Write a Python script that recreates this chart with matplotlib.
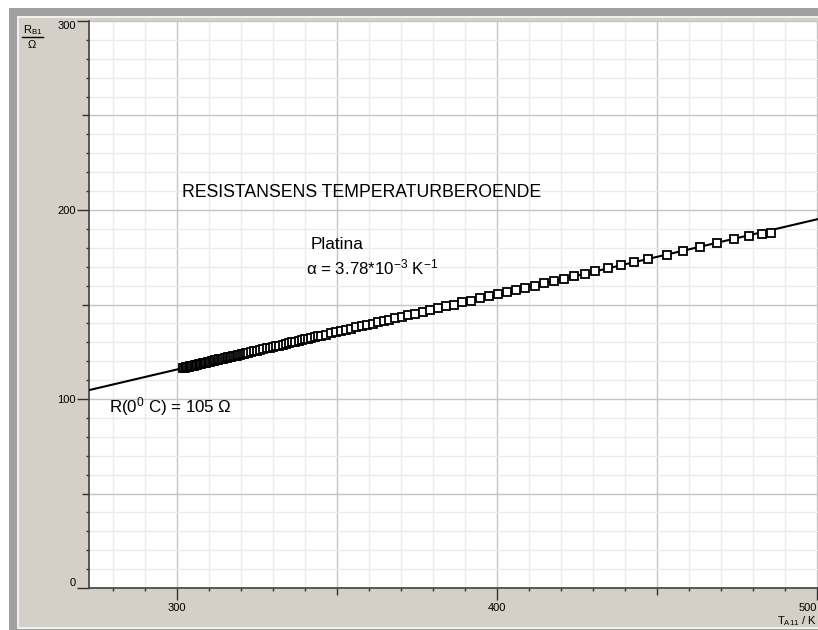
import matplotlib
matplotlib.use("Agg")
import matplotlib.pyplot as plt
from matplotlib.patches import Rectangle
from matplotlib.lines import Line2D
from matplotlib.ticker import MultipleLocator

W, H = 818, 630

# measured temperature (K) and resistance (ohm)
temp = [302.0, 302.4, 302.8, 303.2, 303.6, 304.0, 304.4, 304.8, 305.2, 305.6,
        306.0, 306.4, 306.8, 307.2, 307.6, 308.0, 308.4, 308.8, 309.2, 309.6,
        310.0, 310.4, 310.8, 311.2, 311.6, 312.0, 312.4, 312.8, 313.2, 313.6,
        314.0, 314.5, 315.0, 315.5, 316.0, 316.5, 317.0, 317.5, 318.0, 318.6,
        319.2, 319.8, 320.4, 321.0, 321.6, 322.2,
        323, 324, 325, 326, 327, 328, 329, 330, 331, 332, 333, 334, 335, 336,
        337, 338, 339, 340, 341, 342, 343, 344, 345,
        346.5, 348.0, 349.6, 351.2, 352.8, 354.4, 356.0, 357.7, 359.4, 361.1,
        362.8, 364.6, 366.4, 368.2, 370.2, 372.3, 374.5, 376.8, 379.1, 381.5,
        384.0, 386.6, 389.2, 391.9, 394.6, 397.4, 400.2, 403.0, 405.9, 408.8,
        411.8, 414.8, 417.9, 421.0, 424.2, 427.4, 430.7, 434.6, 438.6, 442.8,
        447.2, 453.0, 458.1, 463.4, 468.8, 474.1, 478.8, 482.8, 485.6]
resist = [116.5, 116.6, 116.8, 117.0, 117.1, 117.3, 117.4, 117.6, 117.7, 117.9,
          118.0, 118.2, 118.4, 118.5, 118.7, 118.8, 119.0, 119.2, 119.3, 119.5,
          119.6, 119.8, 119.9, 120.1, 120.3, 120.4, 120.6, 120.7, 120.9, 121.0,
          121.2, 121.4, 121.6, 121.8, 122.0, 122.2, 122.4, 122.6, 122.8, 123.0,
          123.3, 123.5, 123.8, 124.0, 124.2, 124.5,
          124.8, 125.2, 125.6, 126.0, 126.4, 126.8, 127.2, 127.6, 127.9, 128.3,
          128.7, 129.1, 129.5, 129.9, 130.3, 130.7, 131.1, 131.5, 131.9, 132.3,
          132.7, 133.1, 133.5,
          134.1, 134.7, 135.3, 136.0, 136.6, 137.2, 137.9, 138.6, 139.2, 139.9,
          140.6, 141.3, 142.0, 142.7, 143.5, 144.4, 145.2, 146.1, 147.1, 148.0,
          149.0, 150.0, 151.1, 152.1, 153.2, 154.3, 155.4, 156.5, 157.7, 158.8,
          160.0, 161.2, 162.5, 163.7, 165.0, 166.2, 167.5, 169.1, 170.7, 172.3,
          174.1, 176.4, 178.4, 180.5, 182.6, 184.6, 186.1, 187.1, 187.8]

# fitted straight line, end points
fit_t = [272.5, 500.3]
fit_r = [104.7, 195.2]

x_ticks = [300, 350, 400, 450, 500]
x_labels = ["300", "", "400", "", "500"]
y_ticks = [0, 50, 100, 150, 200, 250, 300]
y_labels = ["0", "", "100", "", "200", "", "300"]

plt.rcParams["font.family"] = ["Liberation Sans", "DejaVu Sans"]
plt.rcParams["mathtext.fontset"] = "custom"
plt.rcParams["mathtext.rm"] = "Liberation Sans"
plt.rcParams["mathtext.it"] = "Liberation Sans:italic"


def fx(x):
    return x / W


def fy(y):
    return 1 - y / H


def frect(fig, x0, y0, x1, y1, color):
    fig.patches.append(Rectangle((fx(x0), fy(y1)), (x1 - x0) / W, (y1 - y0) / H,
                                 transform=fig.transFigure, color=color,
                                 zorder=0, lw=0))


fig = plt.figure(figsize=(W / 100, H / 100), dpi=100, facecolor="white")
frect(fig, 9, 8, W, H, "#a0a0a0")
frect(fig, 17, 16, W, 629, "#f0f0f0")
frect(fig, 19, 18, W, 627, "#d4d0c8")

ax = fig.add_axes([fx(89), fy(588), (W - 89) / W, (588 - 21) / H])
ax.set_zorder(1)
ax.set_facecolor("white")

ax.plot(fit_t, fit_r, color="black", lw=1.5, zorder=3)
ax.plot(temp, resist, ls="none", marker="s", ms=5.2, mfc="white",
        mec="black", mew=1.3, zorder=4)

ax.set_xlim(272.5, 500.3)
ax.set_ylim(0, 300)
ax.set_xticks(x_ticks)
ax.set_xticklabels(x_labels)
ax.set_yticks(y_ticks)
ax.set_yticklabels(y_labels)
ax.xaxis.set_minor_locator(MultipleLocator(10))
ax.yaxis.set_minor_locator(MultipleLocator(10))

ax.grid(which="major", color="#c4c4c4", lw=1.0, zorder=0)
ax.grid(which="minor", color="#ebebeb", lw=1.0, zorder=0)
ax.set_axisbelow(True)

ax.tick_params(which="major", length=5, width=1, color="#303030",
               labelsize=8, labelcolor="black")
ax.tick_params(axis="x", which="major", pad=6)
ax.tick_params(axis="y", which="major", pad=4.5)
ax.tick_params(which="minor", length=2.2, width=1, color="#303030")

for sp in ["top", "right"]:
    ax.spines[sp].set_visible(False)
for sp in ["left", "bottom"]:
    ax.spines[sp].set_color("#404040")
    ax.spines[sp].set_linewidth(1.2)

# longer ticks on the labelled hundreds
for tk, v in zip(ax.xaxis.get_major_ticks(), x_ticks):
    if v % 100 == 0:
        tk.tick1line.set_markersize(8.6)
for tk, v in zip(ax.yaxis.get_major_ticks(), y_ticks):
    if v % 100 == 0:
        tk.tick1line.set_markersize(8.6)

xl = ax.get_xticklabels()
xl[-1].set_ha("right")
yl = ax.get_yticklabels()
yl[-1].set_va("top")
yl[0].set_va("bottom")

# annotations
ax.text(301.6, 209.5, "RESISTANSENS TEMPERATURBEROENDE", fontsize=12.7,
        va="center", ha="left", zorder=5)
ax.text(341.9, 181.5, "Platina", fontsize=12.4, va="center", ha="left", zorder=5)
ax.text(340.3, 169.8, r"α = 3.78*10$^{-3}$ K$^{-1}$", fontsize=12.2,
        va="center", ha="left", zorder=5)
ax.text(278.7, 95.8, r"R(0$^{0}$ C) = 105 Ω", fontsize=12.2, va="center",
        ha="left", zorder=5)

# axis captions
fig.text(fx(23), fy(30), r"R$_{\mathrm{B1}}$", fontsize=8, ha="left", va="center")
fig.lines.append(Line2D([fx(22), fx(43)], [fy(37), fy(37)],
                        transform=fig.transFigure, color="black", lw=1))
fig.text(fx(32), fy(45), "Ω", fontsize=8, ha="center", va="center")
fig.text(fx(817), fy(621), r"T$_{\mathrm{A11}}$ / K", fontsize=8,
         ha="right", va="center")

fig.savefig("out.png", dpi=100, facecolor=fig.get_facecolor())
